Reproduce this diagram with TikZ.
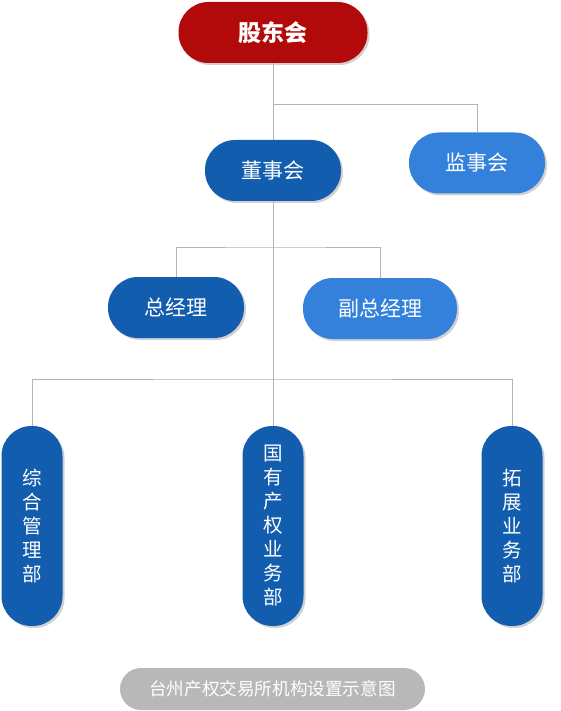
\documentclass[tikz,border=0pt]{standalone}
\usepackage{fontspec}
\setmainfont{Noto Sans CJK SC}
\usetikzlibrary{shadows}

\definecolor{rouge}{HTML}{B20A0A}
\definecolor{bleu}{HTML}{135DAF}
\definecolor{clair}{HTML}{3381DB}
\definecolor{gristrait}{HTML}{B4B4B4}
\definecolor{grislegende}{HTML}{B8B8B8}

\begin{document}
\begin{tikzpicture}[x=1pt,y=-1pt]
	\tikzstyle{bulle}=[rectangle, rounded corners=30pt, inner sep=0pt, text=white,
		drop shadow={shadow xshift=2pt, shadow yshift=-2pt, fill=black, opacity=0.18}]
	\tikzstyle{large}=[bulle, minimum width=136pt, minimum height=61pt, font=\fontsize{21}{24}\selectfont]
	\tikzstyle{colonne}=[bulle, fill=bleu, minimum width=61pt, minimum height=200pt,
		text width=21pt, align=center, font=\fontsize{19.5}{24}\selectfont]
	\tikzstyle{lien}=[draw=gristrait, line width=1pt]
	\useasboundingbox (0,0) rectangle (560,711);

	\node[large, fill=rouge, minimum width=189pt, font=\fontsize{23}{26}\selectfont\bfseries] (A) at (273,32.5){股东会};
	\node[large, fill=bleu] (B) at (273,170.5){董事会};
	\node[large, fill=clair] (C) at (477,163){监事会};
	\node[large, fill=bleu] (D) at (176,307.5){总经理};
	\node[large, fill=clair, minimum width=154pt] (E) at (380,308.5){副总经理};
	\node[colonne] (F) at (32,526){综\\合\\管\\理\\部};
	\node[colonne] (G) at (273,526){国\\有\\产\\权\\业\\务\\部};
	\node[colonne] (H) at (512,526){拓\\展\\业\\务\\部};
	\node[rectangle, rounded corners=21pt, fill=grislegende, text=white, inner sep=0pt,
		minimum width=305pt, minimum height=42pt, font=\fontsize{17.6}{20}\selectfont] (L) at (272.5,689){台州产权交易所机构设置示意图};

	\coordinate (j1) at (273,105);
	\coordinate (j2) at (273,247);
	\coordinate (j3) at (273,379);
\draw[lien] (A.south) -- (B.north);
\draw[lien] (j1) -| (C.north);
\draw[lien] (B.south) -- (G.north);
\draw[lien] (D.north) |- (j2) -| (E.north);
\draw[lien] (F.north) |- (j3) -| (H.north);

\end{tikzpicture}
\end{document}
